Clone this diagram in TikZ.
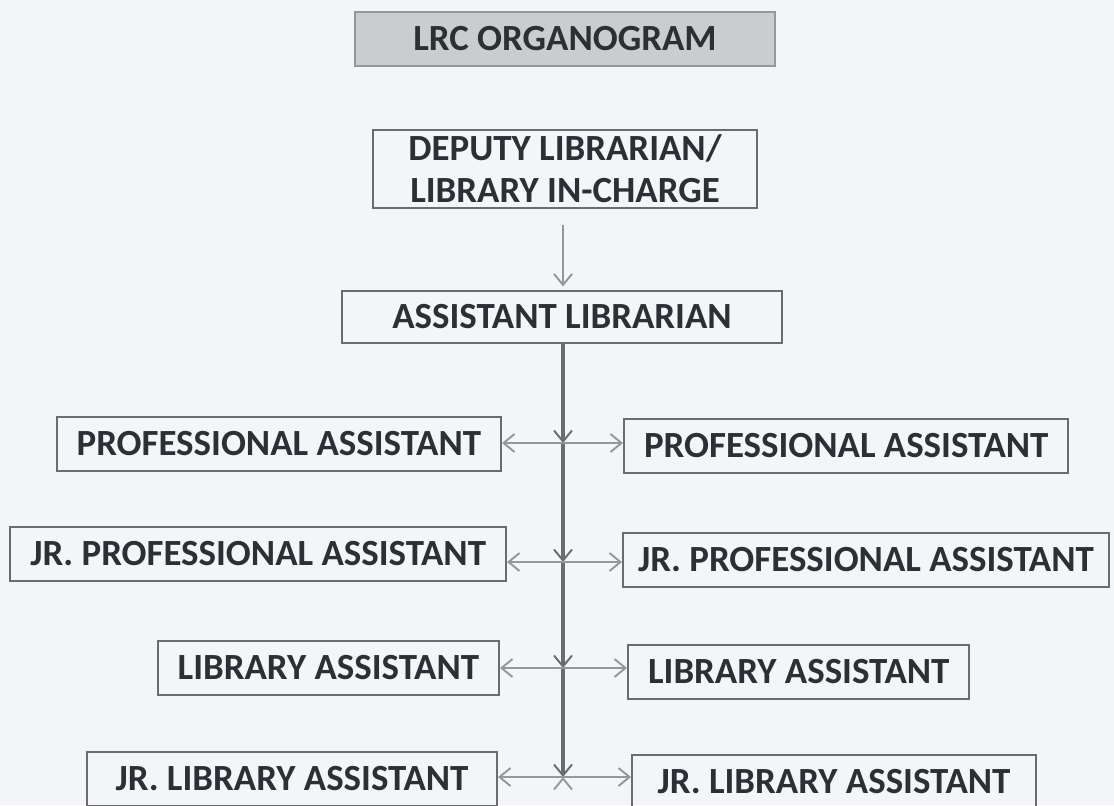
\documentclass[tikz,border=0pt]{standalone}
\usepackage{fontspec}
\setmainfont{Carlito}
\usetikzlibrary{arrows.meta}
\definecolor{paper}{HTML}{F3F5F8}
\definecolor{ink}{HTML}{2B3034}
\definecolor{rule}{HTML}{6A6C6E}
\definecolor{wire}{HTML}{95979A}
\definecolor{banner}{HTML}{CBCCCD}
\begin{document}
\begin{tikzpicture}[x=0.02cm, y=-0.02cm,
  post/.style={rectangle, draw=rule, line width=1.2pt, text=ink, inner xsep=0.4cm, inner ysep=0pt,
    minimum height=1.08cm, font=\fontsize{21}{24}\selectfont\bfseries, align=center},
  tip/.style={-{Straight Barb[length=2.2mm, width=3.6mm, line width=1.1pt]}},
  wire/.style={tip, draw=wire, line width=1.4pt},
  spine/.style={tip, draw=rule, line width=1.9pt}]
\clip (0,0) rectangle (1114,805);
\fill [paper] (0,0) rectangle (1114,805);
% top of the chart
\node [post, fill=banner, draw=wire, minimum width=8.4cm](title) at (565,39) {LRC ORGANOGRAM};
\node [post, minimum width=7.68cm, minimum height=1.56cm](deputy) at (565,169) {DEPUTY LIBRARIAN/\\LIBRARY IN-CHARGE};
\node [post, minimum width=8.8cm, minimum height=1.04cm](asstlib) at (562,317) {ASSISTANT LIBRARIAN};
% left column
\node [post, anchor=east](profL) at (502,444) {PROFESSIONAL ASSISTANT};
\node [post, anchor=east](jprofL) at (507,554) {JR. PROFESSIONAL ASSISTANT};
\node [post, anchor=east](libL) at (500,668) {LIBRARY ASSISTANT};
\node [post, anchor=east, minimum width=8.2cm](jlibL) at (498,779) {JR. LIBRARY ASSISTANT};
% right column
\node [post, anchor=west](profR) at (623,446) {PROFESSIONAL ASSISTANT};
\node [post, anchor=west, inner xsep=0.3cm](jprofR) at (622,560) {JR. PROFESSIONAL ASSISTANT};
\node [post, anchor=west](libR) at (627,672) {LIBRARY ASSISTANT};
\node [post, anchor=west, minimum width=8.08cm](jlibR) at (631,782) {JR. LIBRARY ASSISTANT};
% junctions on the spine
\coordinate (j1) at (563,443);
\coordinate (j2) at (563,562);
\coordinate (j3) at (563,668);
\coordinate (j4) at (563,777);
\draw [wire, shorten <=9pt, shorten >=2pt] (deputy.south -| j1) -- (asstlib.north -| j1);
\draw [spine] (asstlib.south -| j1) -- (j1);
\draw [spine] (j1) -- (j2);
\draw [spine] (j2) -- (j3);
\draw [spine] (j3) -- (j4);
\path [wire]
    (j1) edge (j1 -| profL.east)
    (j1) edge (j1 -| profR.west)
    (j2) edge (j2 -| jprofL.east)
    (j2) edge (j2 -| jprofR.west)
    (j3) edge (j3 -| libL.east)
    (j3) edge (j3 -| libR.west)
    (j4) edge (j4 -| jlibL.east)
    (j4) edge (j4 -| jlibR.west)
         ;
\end{tikzpicture}
\end{document}
